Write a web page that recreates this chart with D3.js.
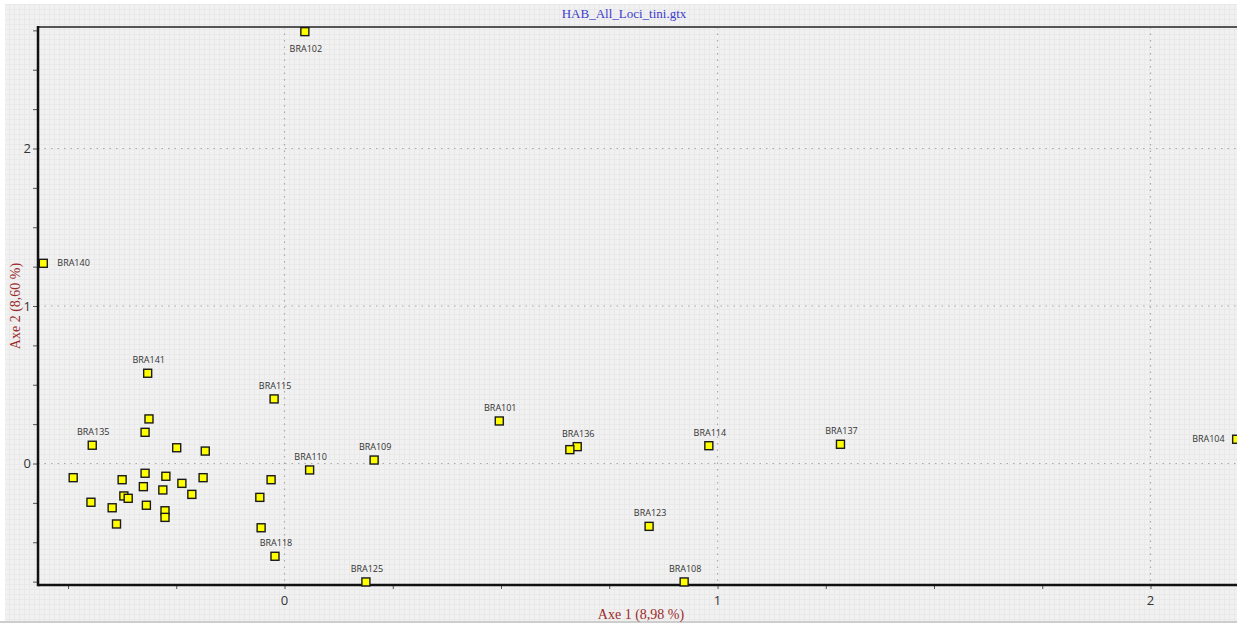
<!DOCTYPE html>
<html>
<head>
<meta charset="utf-8">
<script src="https://cdn.jsdelivr.net/npm/d3@7"></script>
<style>
  html, body { margin: 0; padding: 0; background: #fff; overflow: hidden; }
  svg { display: block; }
</style>
</head>
<body>
<svg id="chart"></svg>
<script>
// individuals (empty name = unlabelled point)
const names = ['BRA102', 'BRA140', 'BRA141', 'BRA115', '', '', 'BRA135', '', '',
  'BRA110', '', '', '', '', '', '', '', '', '', '', '', '', '', '', '', '', '', '',
  '', 'BRA118', 'BRA101', 'BRA136', '', 'BRA109', 'BRA125', 'BRA123', 'BRA114',
  'BRA137', 'BRA108', 'BRA104', '']
const axe1 = [0.047, -0.557, -0.316, -0.024, -0.313, -0.322, -0.444, -0.249, -0.183,
  0.058, -0.488, -0.375, -0.322, -0.274, -0.188, -0.031, -0.326, -0.237, -0.281,
  -0.214, -0.057, -0.371, -0.361, -0.447, -0.398, -0.319, -0.276, -0.276, -0.388,
  -0.022, 0.496, 0.676, 0.659, 0.207, 0.188, 0.842, 0.980, 1.284, 0.923, 2.199,
  -0.054]
const axe2 = [2.742, 1.271, 0.573, 0.410, 0.283, 0.198, 0.116, 0.100, 0.079,
  -0.041, -0.090, -0.103, -0.062, -0.081, -0.090, -0.103, -0.147, -0.126, -0.168,
  -0.196, -0.215, -0.206, -0.221, -0.246, -0.281, -0.265, -0.300, -0.342, -0.384,
  -0.589, 0.270, 0.107, 0.088, 0.022, -0.752, -0.399, 0.113, 0.122, -0.752, 0.154,
  -0.408]

const titleText = 'HAB_All_Loci_tini.gtx'
const xTitle = 'Axe 1 (8,98 %)'
const yTitle = 'Axe 2 (8,60 %)'
const xDomain = [-0.5693, 2.2575]
const yDomain = [-0.7714, 2.7714]
const majorTicks = [-1, 0, 1, 2]
const xTicks = [-0.5, -0.25, 0, 0.25, 0.5, 0.75, 1, 1.25, 1.5, 1.75, 2, 2.25]
const yTicks = [-0.75, -0.5, -0.25, 0, 0.25, 0.5, 0.75, 1, 1.25, 1.5, 1.75, 2, 2.25, 2.5, 2.75]

const width = 1237
const height = 626
const margin = {top: 27, right: -25, bottom: 41, left: 38}

const svg = d3.select('#chart')
    .attr('width', width)
    .attr('height', height)

// background with fine grid
const defs = svg.append('defs')
const pat = defs.append('pattern')
    .attr('id', 'fine')
    .attr('width', 5)
    .attr('height', 5)
    .attr('patternUnits', 'userSpaceOnUse')
pat.append('rect').attr('width', 5).attr('height', 5).attr('fill', '#f1f1f1')
pat.append('path').attr('d', 'M4.5,0V5M0,4.5H5')
    .attr('stroke', '#e9e9e9').attr('stroke-width', 1)

svg.append('rect')
    .attr('x', 5).attr('y', 4)
    .attr('width', width - 5).attr('height', 617)
    .attr('fill', 'url(#fine)')
svg.append('line')
    .attr('x1', 0).attr('x2', width)
    .attr('y1', 622).attr('y2', 622)
    .attr('stroke', '#bdbdbd').attr('stroke-width', 1.5)

const xScale = d3.scaleLinear()
    .domain(xDomain)
    .range([margin.left, width - margin.right])
const yScale = d3.scaleLinear()
    .domain(yDomain)
    .range([height - margin.bottom, margin.top])

const x0 = xScale.range()[0], x1 = xScale.range()[1]
const y0 = yScale.range()[0], y1 = yScale.range()[1]

// dotted grid at integer values
const inX = majorTicks.filter(v => v > xDomain[0] && v < xDomain[1])
const inY = majorTicks.filter(v => v > yDomain[0] && v < yDomain[1])
svg.append('g').selectAll('line').data(inX)
    .enter().append('line')
        .attr('x1', d => xScale(d)).attr('x2', d => xScale(d))
        .attr('y1', y1).attr('y2', y0)
        .attr('stroke', '#a9a9a9')
        .attr('stroke-width', 1.2)
        .attr('stroke-dasharray', '1.5,5')
svg.append('g').selectAll('line').data(inY)
    .enter().append('line')
        .attr('y1', d => yScale(d)).attr('y2', d => yScale(d))
        .attr('x1', x0).attr('x2', x1)
        .attr('stroke', '#a9a9a9')
        .attr('stroke-width', 1.2)
        .attr('stroke-dasharray', '1.5,5')

// axes (tick marks from d3, integer labels drawn below)
const xAxis = svg.append('g')
    .attr('transform', `translate(0,${y0})`)
    .call(d3.axisBottom(xScale)
        .tickValues(xTicks)
        .tickSize(4).tickFormat(''))
const yAxis = svg.append('g')
    .attr('transform', `translate(${x0},0)`)
    .call(d3.axisLeft(yScale)
        .tickValues(yTicks)
        .tickSize(5).tickFormat(''))
;[xAxis, yAxis].forEach(a => {
    a.select('.domain').remove()
    a.selectAll('line').attr('stroke', '#555')
})

const tickFont = sel => sel
    .attr('fill', '#333')
    .style('font-family', '"Open Sans", sans-serif')
    .style('font-size', '13px')
svg.append('g').selectAll('text').data(inX)
    .enter().append('text')
        .attr('x', d => xScale(d))
        .attr('y', y0 + 20)
        .attr('text-anchor', 'middle')
        .text(d => d)
        .call(tickFont)
svg.append('g').selectAll('text').data(inY)
    .enter().append('text')
        .attr('x', x0 - 7)
        .attr('y', d => yScale(d))
        .attr('dy', '0.35em')
        .attr('text-anchor', 'end')
        .text(d => d)
        .call(tickFont)

// frame lines
svg.append('line')
    .attr('x1', x0).attr('x2', x1).attr('y1', y1).attr('y2', y1)
    .attr('stroke', '#555').attr('stroke-width', 2)
svg.append('line')
    .attr('x1', x0).attr('x2', x0).attr('y1', y1 - 1).attr('y2', y0 + 1.2)
    .attr('stroke', '#111').attr('stroke-width', 2.5)
svg.append('line')
    .attr('x1', x0).attr('x2', x1).attr('y1', y0).attr('y2', y0)
    .attr('stroke', '#111').attr('stroke-width', 2.5)

// points
const pts = names.map((n, i) => ({name: n, a1: axe1[i], a2: axe2[i]}))
const g = svg.append('g')
g.selectAll('rect').data(pts)
    .enter().append('rect')
        .attr('x', d => xScale(d.a1) - 4)
        .attr('y', d => yScale(d.a2) - 4)
        .attr('width', 8)
        .attr('height', 8)
        .attr('fill', '#ffff00')
        .attr('stroke', '#1a1a1a')
        .attr('stroke-width', 1.4)

// labels: above by default, beside near left/right edge, below near top
g.selectAll('text').data(pts.filter(d => d.name))
    .enter().append('text')
        .text(d => d.name)
        .attr('fill', '#333')
        .style('font-family', '"Open Sans", sans-serif')
        .style('font-size', '9px')
        .attr('text-anchor', d => {
            const px = xScale(d.a1)
            if (px - x0 < 30) return 'start'
            if (px > width - 30) return 'end'
            return 'middle'
        })
        .attr('x', d => {
            const px = xScale(d.a1)
            if (px - x0 < 30) return px + 14
            if (px > width - 30) return px - 12
            return px + 1
        })
        .attr('y', d => {
            const px = xScale(d.a1), py = yScale(d.a2)
            if (px - x0 < 30 || px > width - 30) return py + 3
            if (py - y1 < 20) return py + 20
            return py - 10
        })

// titles
svg.append('text')
    .attr('x', 624).attr('y', 18)
    .attr('text-anchor', 'middle')
    .attr('fill', '#3b3bcc')
    .style('font-family', '"Liberation Serif", serif')
    .style('font-size', '13px')
    .text(titleText)
svg.append('text')
    .attr('x', 641).attr('y', 619)
    .attr('text-anchor', 'middle')
    .attr('fill', '#9b2a2a')
    .style('font-family', '"Liberation Serif", serif')
    .style('font-size', '14px')
    .text(xTitle)
svg.append('text')
    .attr('transform', 'translate(20,306) rotate(-90)')
    .attr('text-anchor', 'middle')
    .attr('fill', '#9b2a2a')
    .style('font-family', '"Liberation Serif", serif')
    .style('font-size', '14px')
    .text(yTitle)
</script>
</body>
</html>
